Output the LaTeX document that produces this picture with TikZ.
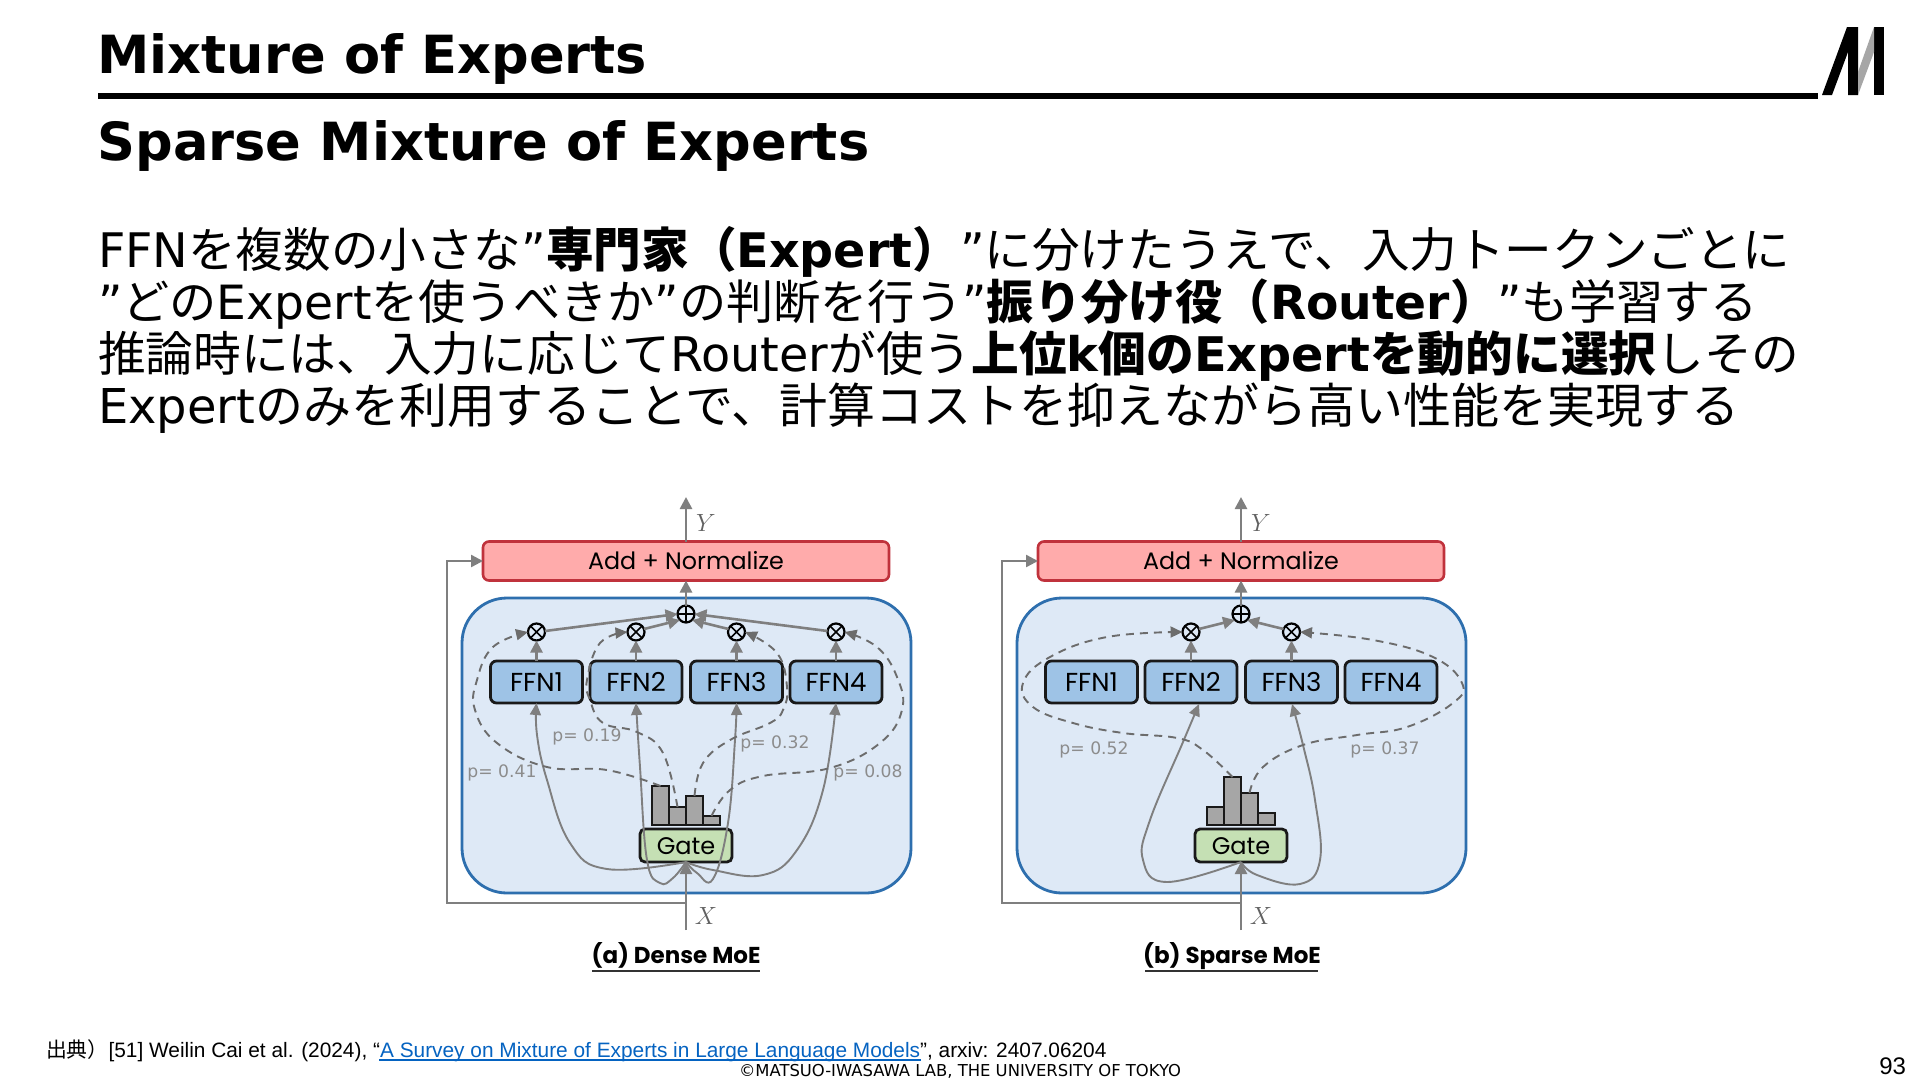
\documentclass[tikz,border=0pt]{standalone}
\usepackage{fontspec}
\usetikzlibrary{arrows.meta}
\setmainfont{DejaVu Sans}
\newfontfamily\jp{Noto Sans CJK JP}
\newfontfamily\arl{Liberation Sans}
\newfontfamily\geo{Poppins}
\newcommand{\J}[1]{{\jp #1}}
\newcommand{\B}[1]{{\bfseries #1}}
\definecolor{arrowgray}{HTML}{7F7F7F}
\definecolor{labelgray}{HTML}{8C8C8C}
\definecolor{panelfill}{HTML}{DEE9F6}
\definecolor{panelline}{HTML}{2E6FAE}
\definecolor{addfill}{HTML}{FFABAB}
\definecolor{addline}{HTML}{C0323C}
\definecolor{ffnfill}{HTML}{9EC3E6}
\definecolor{gatefill}{HTML}{C5E0B4}
\definecolor{barfill}{HTML}{A6A6A6}
\definecolor{linkblue}{HTML}{0563C1}
\tikzset{
  x=1pt,y=-1pt,
  every node/.style={outer sep=0pt,inner sep=0pt},
  tline/.style={anchor=base west,font=\fontsize{#1}{50}\selectfont},
  heading/.style={anchor=base west,font=\fontsize{52.6}{53}\selectfont\bfseries},
  panelbox/.style={draw=panelline,fill=panelfill,line width=2.8pt,rounded corners=45pt,minimum width=449pt,minimum height=295pt},
  addbox/.style={draw=addline,fill=addfill,line width=2.6pt,rounded corners=6pt,minimum width=406pt,minimum height=39pt,font=\geo\fontsize{23.8}{24}\selectfont,text height=17pt,text depth=0pt},
  ffnbox/.style={draw=black!90,fill=ffnfill,line width=2.8pt,rounded corners=6pt,minimum width=92pt,minimum height=42pt,font=\geo\fontsize{26}{26}\selectfont,text height=18pt,text depth=0pt},
  gatebox/.style={draw=black!90,fill=gatefill,line width=2.8pt,rounded corners=5pt,minimum width=92pt,minimum height=33pt,font=\geo\fontsize{24}{24}\selectfont,text height=17pt,text depth=0pt},
  barbox/.style={draw=black!90,fill=barfill,line width=2pt,anchor=south west,minimum width=17pt},
  opcirc/.style={circle,draw=black,fill=none,line width=2.2pt,minimum size=17pt},
  garrow/.style={draw=arrowgray,line width=2.6pt,-{Triangle[length=12pt,width=12pt]}},
  gline/.style={draw=arrowgray,line width=2.4pt},
  gcurve/.style={draw=arrowgray,line width=1.9pt,-{Triangle[length=12pt,width=11pt]}},
  gdash/.style={draw=arrowgray!85!black,line width=1.9pt,dash pattern=on 8pt off 6pt,-{Triangle[length=12pt,width=11pt]}},
  plabel/.style={text=labelgray,font=\fontsize{17.2}{19}\selectfont\rmfamily},
  iolabel/.style={text=black!62,font=\fontsize{26}{26}\selectfont},
  captext/.style={anchor=base,font=\geo\bfseries\fontsize{23}{23}\selectfont},
  capline/.style={draw=black!80,line width=1.8pt},
}
\newcommand{\panelcore}[1]{%
  \node[panelbox] (#1-panel) at (686.5,745.5) {};
  \node[addbox] (#1-add) at (686,561) {Add + Normalize};
  \foreach \nm/\cx in {1/536.5,2/636,3/736.5,4/836}{
    \node[ffnbox] (#1-f\nm) at (\cx,682) {FFN\nm};
  }
  \node[gatebox] (#1-gate) at (686,845.5) {Gate};
  \node[opcirc] (#1-plus) at (686,614) {};
  \draw[line width=1.6pt,black] (#1-plus.north) -- (#1-plus.south) (#1-plus.west) -- (#1-plus.east);
  \coordinate (#1-yend) at (686,497);
  \coordinate (#1-xstart) at (686,930);
  \coordinate (#1-fb) at (686,903);
  \coordinate (#1-fbl) at (447,903);
  \coordinate (#1-fbu) at (447,561);
  \draw[garrow] (#1-add.north) -- (#1-yend);
  \draw[garrow] (#1-plus.north) -- (#1-add.south);
  \draw[garrow] (#1-xstart) -- (#1-gate.south);
  \draw[gline,-{Triangle[length=12pt,width=12pt]}] (#1-fb) -- (#1-fbl) -- (#1-fbu) -- (#1-add.west);
  \node[iolabel] (#1-ylab) at (706,523) {$Y$};
  \node[iolabel] (#1-xlab) at (706,916) {$X$};
}
\newcommand{\opnode}[3]{% prefix, ffn index, x
  \node[opcirc] (#1-o#2) at (#3,632) {};
  \draw[line width=1.6pt,black] (#1-o#2.north west) -- (#1-o#2.south east) (#1-o#2.north east) -- (#1-o#2.south west);
  \draw[garrow] (#1-f#2.north) -- (#1-o#2.south);
}
\begin{document}
\begin{tikzpicture}
\useasboundingbox (0,0) rectangle (1920,1080);
\fill[white] (0,0) rectangle (1920,1080);
% header
\node[heading] (title) at (97.5,73) {Mixture of Experts};
\coordinate (ruleL) at (98,96);
\coordinate (ruleR) at (1818,96);
\draw[line width=6pt,black] (ruleL) -- (ruleR);
\fill[black] (1822,95) -- (1847,27) -- (1858,27) -- (1858,95) -- (1848,95) -- (1848,52) -- (1832,95) -- cycle;
\fill[black] (1874,27) -- (1884,27) -- (1884,95) -- (1874,95) -- cycle;
\fill[black!35] (1858,72) -- (1874,27) -- (1874,52) -- (1858,95) -- cycle;
\node[heading] (sub) at (97.5,160) {Sparse Mixture of Experts};
% body
\node[tline=47.6] (l1) at (98,267) {FFN\J{を複数の小さな}”\B{\J{専門家（}Expert\J{）}}”\J{に分けたうえで、入力トークンごとに}};
\node[tline=47.2] (l2) at (98,319) {”\J{どの}Expert\J{を使うべきか}”\J{の判断を行う}”\B{\J{振り分け役（}Router\J{）}}”\J{も学習する}};
\node[tline=47.7] (l3) at (98,371) {\J{推論時には、入力に応じて}Router\J{が使う}\B{\J{上位}k\J{個の}Expert\J{を動的に選択}}\J{しその}};
\node[tline=48] (l4) at (98,423) {Expert\J{のみを利用することで、計算コストを抑えながら高い性能を実現する}};
% panel a
\begin{scope}
\panelcore{a}
\foreach \nx/\nh/\nw in {1/39/652,2/18/669,3/29/686,4/9/703}{
  \node[barbox,minimum height=\nh pt] (a-b\nx) at (\nw,825) {};
}
\opnode{a}{1}{536.5}\opnode{a}{2}{636}\opnode{a}{3}{736.5}\opnode{a}{4}{836}
\draw[garrow] (a-o1) ++(8.5,-1) -- (a-plus.west);
\draw[garrow] (a-o2) ++(8,-3) -- (a-plus.south west);
\draw[garrow] (a-o3) ++(-8,-3) -- (a-plus.south east);
\draw[garrow] (a-o4) ++(-8.5,-1) -- (a-plus.east);
\draw[gcurve] plot[smooth,tension=.7] coordinates {(a-gate.south) (607,869) (570,843) (547,780) (537,735) (a-f1.south)};
\draw[gcurve] plot[smooth,tension=.7] coordinates {(a-gate.south) (673,878) (660,883) (647,860) (640,767) (a-f2.south)};
\draw[gcurve] plot[smooth,tension=.7] coordinates {(a-gate.south) (697,873) (713,879) (728,823) (735,740) (a-f3.south)};
\draw[gcurve] plot[smooth,tension=.7] coordinates {(a-gate.south) (713,870) (763,875) (797,850) (823,790) (a-f4.south)};
\draw[gdash] plot[smooth,tension=.7] coordinates {(a-b1.north) (607,770) (547,767) (497,743) (475,710) (477,680) (493,647) (a-o1.west)};
\draw[gdash] plot[smooth,tension=.7] coordinates {(a-b2.north) (663,753) (637,732) (603,723) (590,700) (587,680) (600,643) (a-o2.west)};
\draw[gdash] plot[smooth,tension=.7] coordinates {(a-b3.north) (703,763) (730,740) (770,723) (783,710) (787,687) (777,653) (a-o3.east)};
\draw[gdash] plot[smooth,tension=.7] coordinates {(a-b4.north) (730,790) (763,776) (830,768) (880,743) (902,710) (897,677) (877,647) (a-o4.east)};
\node[plabel] (a-p1) at (502,773) {p= 0.41};
\node[plabel] (a-p2) at (587,737) {p= 0.19};
\node[plabel] (a-p3) at (775,744) {p= 0.32};
\node[plabel] (a-p4) at (868,773) {p= 0.08};
\node[captext] (a-cap) at (676,963) {(a) Dense MoE};
\coordinate (a-capl) at (592,971);
\coordinate (a-capr) at (760,971);
\draw[capline] (a-capl) -- (a-capr);
\end{scope}
% panel b
\begin{scope}[xshift=555pt]
\panelcore{b}
\foreach \nx/\nh/\nw in {1/18/652,2/48/669,3/32/686,4/12/703}{
  \node[barbox,minimum height=\nh pt] (b-b\nx) at (\nw,825) {};
}
\opnode{b}{2}{636}\opnode{b}{3}{736.5}
\draw[garrow] (b-o2) ++(8,-3) -- (b-plus.south west);
\draw[garrow] (b-o3) ++(-8,-3) -- (b-plus.south east);
\coordinate (b-in2) at (644,704);
\coordinate (b-in3) at (737,704);
\draw[gcurve] plot[smooth,tension=.7] coordinates {(b-gate.south) (612,882) (588,860) (595,820) (628,742) (b-in2)};
\draw[gcurve] plot[smooth,tension=.7] coordinates {(b-gate.south) (702,875) (745,884) (765,860) (760,800) (748,745) (b-in3)};
\draw[gdash] plot[smooth,tension=.7] coordinates {(b-b2.north) (648,750) (622,738) (568,733) (518,723) (478,707) (468,683) (495,657) (552,637) (b-o2.west)};
\draw[gdash] plot[smooth,tension=.7] coordinates {(b-b3.north) (708,767) (748,745) (802,735) (852,727) (898,703) (907,683) (878,657) (818,640) (b-o3.east)};
\node[plabel] (b-p1) at (539,750) {p= 0.52};
\node[plabel] (b-p2) at (830,750) {p= 0.37};
\node[captext] (b-cap) at (677,963) {(b) Sparse MoE};
\coordinate (b-capl) at (590,971);
\coordinate (b-capr) at (763,971);
\draw[capline] (b-capl) -- (b-capr);
\end{scope}
% footer
\node[anchor=base west,font=\arl\fontsize{20.85}{21}\selectfont] (cite) at (46,1057) {\J{出典）}[51] Weilin Cai et al. (2024), “\textcolor{linkblue}{A Survey on Mixture of Experts in Large Language Models}”, arxiv: 2407.06204};
\coordinate (linkl) at (379,1060);
\coordinate (linkr) at (921,1060);
\draw[linkblue,line width=1.2pt] (linkl) -- (linkr);
\node[anchor=base,font=\fontsize{16.4}{16}\selectfont] (copy) at (960,1076) {©MATSUO-IWASAWA LAB, THE UNIVERSITY OF TOKYO};
\node[anchor=base east,font=\arl\fontsize{24}{24}\selectfont] (page) at (1906,1074) {93};
\end{tikzpicture}
\end{document}
